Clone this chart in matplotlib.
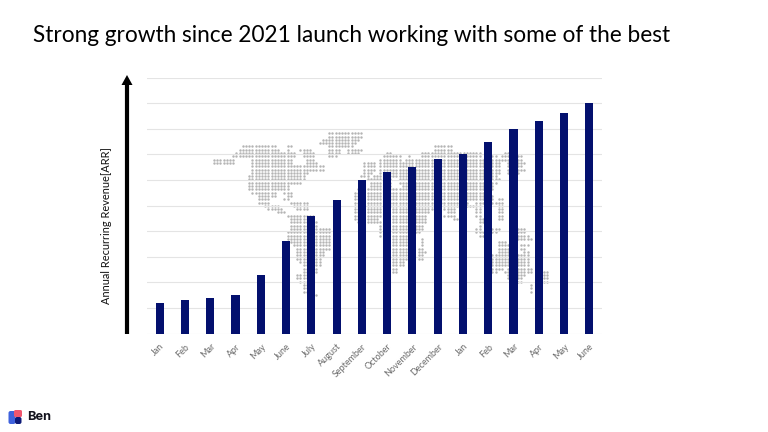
import numpy as np
from matplotlib import pyplot as plt
from matplotlib.patches import FancyBboxPatch, Polygon

plt.rcParams["font.family"] = ["Lato", "DejaVu Sans"]

W, H = 768, 432

months = ["Jan", "Feb", "Mar", "Apr", "May", "June", "July", "August", "September",
          "October", "November", "December", "Jan", "Feb", "Mar", "Apr", "May", "June"]
arr = [1.2, 1.3, 1.4, 1.5, 2.3, 3.6, 4.6, 5.2, 6.0, 6.3, 6.5, 6.8, 7.0, 7.5, 8.0, 8.3, 8.6, 9.0]

# world map in the background, row by row, (x from, x to) in picture pixels
map_rows = [
    [(328, 364)],
    [(328, 364)],
    [(324, 362)],
    [(321, 358)],
    [(242, 278), (287, 292), (328, 353), (435, 453)],
    [(238, 280), (288, 292), (300, 313), (328, 340), (347, 362), (435, 454)],
    [(235, 295), (303, 315), (328, 340), (350, 364), (387, 395), (421, 483), (504, 518)],
    [(232, 295), (303, 317), (328, 337), (383, 403), (410, 413), (421, 483), (493, 500), (503, 525)],
    [(214, 237), (252, 295), (307, 317), (380, 403), (407, 525)],
    [(214, 237), (252, 295), (307, 320), (363, 375), (379, 500), (507, 525)],
    [(252, 327), (363, 375), (379, 500), (508, 525)],
    [(252, 327), (363, 375), (379, 500), (508, 526)],
    [(252, 310), (363, 372), (379, 500), (510, 524)],
    [(248, 307), (362, 372), (375, 500)],
    [(248, 305), (367, 393), (399, 500)],
    [(248, 302), (370, 393), (399, 498)],
    [(248, 290), (370, 382), (386, 393), (403, 496)],
    [(248, 290), (358, 496)],
    [(253, 277), (283, 292), (355, 494)],
    [(258, 277), (287, 292), (355, 495)],
    [(258, 272), (286, 292), (355, 497), (500, 507)],
    [(260, 273), (290, 308), (355, 470), (475, 497), (500, 507)],
    [(266, 283), (293, 309), (355, 440), (445, 485), (500, 507)],
    [(268, 285), (296, 310), (355, 383), (392, 433), (445, 458), (477, 485), (500, 507)],
    [(278, 287), (355, 383), (392, 432), (448, 458), (477, 485), (500, 507)],
    [(287, 317), (355, 383), (392, 428), (445, 458), (477, 485), (500, 507)],
    [(290, 317), (355, 382), (392, 428), (453, 458), (480, 485), (500, 506)],
    [(292, 320), (358, 382), (392, 427), (480, 485)],
    [(292, 320), (380, 383), (392, 425), (480, 483)],
    [(290, 332), (380, 383), (392, 425), (477, 485), (493, 503), (517, 527)],
    [(288, 332), (380, 383), (392, 420), (477, 488), (493, 500), (517, 527)],
    [(287, 332), (380, 383), (392, 408), (480, 485), (517, 530)],
    [(287, 332), (392, 408), (423, 427), (517, 533)],
    [(290, 332), (392, 408), (423, 427), (500, 510)],
    [(293, 332), (392, 408), (423, 427), (500, 513), (520, 531)],
    [(297, 332), (392, 408), (420, 427), (500, 513), (522, 530)],
    [(297, 327), (392, 408), (418, 427), (500, 513), (523, 530)],
    [(297, 327), (392, 408), (418, 425), (493, 533)],
    [(297, 323), (392, 408), (418, 423), (493, 533)],
    [(300, 323), (392, 406), (493, 533)],
    [(303, 323), (392, 406), (493, 533)],
    [(305, 320), (393, 400), (493, 507), (508, 533)],
    [(302, 317), (393, 398), (493, 499), (505, 533), (545, 550)],
    [(297, 313), (507, 527), (545, 553)],
    [(297, 315), (508, 525), (545, 553)],
    [(300, 315), (517, 523), (545, 550)],
    [(302, 315), (531, 534)],
    [(303, 315), (531, 534)],
    [(304, 315), (531, 534)],
    [(312, 317)],
]

fig = plt.figure(figsize=(W / 100, H / 100), dpi=100, facecolor="white")

# overlay in pixel coordinates for the map, arrow and logo
bg = fig.add_axes([0, 0, 1, 1], zorder=0)
bg.set_xlim(0, W)
bg.set_ylim(H, 0)
bg.axis("off")

map_x, map_y = [], []
for i, spans in enumerate(map_rows):
    for x0, x1 in spans:
        n = max(int(round((x1 - x0) / 3.2)), 1)
        start = 214 + round((x0 - 214) / 3.2) * 3.2
        for c in range(n):
            map_x.append(start + c * 3.2)
            map_y.append(133.2 + i * 3.3)
dots = bg.scatter(map_x, map_y, s=3.0, marker="o", color="#b4b4b4", linewidths=0)
dots.set_snap(False)

ax = fig.add_axes([147 / W, 1 - 333.7 / H, 455 / W, 256.2 / H], zorder=1)
ax.patch.set_alpha(0)
x = np.arange(len(months))
ax.set_axisbelow(True)
ax.yaxis.grid(True, color="#e4e4e4", linewidth=0.8)
ax.bar(x, arr, width=0.32, color="#03106e", zorder=3)
ax.set_xlim(-0.5, len(months) - 0.5)
ax.set_ylim(0, 10)
ax.set_yticks(np.arange(0, 11))
ax.set_yticklabels([])
ax.set_xticks(x)
ax.set_xticklabels(months, rotation=45, ha="right", rotation_mode="anchor",
                   fontsize=6.5, color="#6a6a6a")
ax.tick_params(axis="both", length=0, pad=6)
for s in ax.spines.values():
    s.set_visible(False)

# y axis arrow
bg.plot([127, 127], [334, 84], color="black", linewidth=3, solid_capstyle="butt")
bg.add_patch(Polygon([[121.5, 85], [127, 75], [132.5, 85]], closed=True, color="black", lw=0))

fig.text(106.5 / W, 1 - 225.5 / H, "Annual Recurring Revenue[ARR]", rotation=90,
         ha="center", va="center", fontsize=7.9, color="#111111")
fig.text(33 / W, 1 - 35 / H, "Strong growth since 2021 launch working with some of the best",
         ha="left", va="center", fontsize=16.3, color="#000000")

# logo
bg.add_patch(FancyBboxPatch((8.5, 411), 7, 13, boxstyle="round,pad=0,rounding_size=2",
                            color="#3f62dd", lw=0))
bg.add_patch(FancyBboxPatch((14, 410), 8, 7, boxstyle="round,pad=0,rounding_size=1.5",
                            color="#f0566e", lw=0))
bg.add_patch(FancyBboxPatch((15, 417), 6.5, 7, boxstyle="round,pad=0,rounding_size=2",
                            color="#0d1a78", lw=0))
bg.text(27, 417.5, "Ben", family=["Inter", "DejaVu Sans"], fontweight="bold", fontsize=9.2,
        ha="left", va="center", color="#14141e")

fig.savefig("out.png", dpi=100)
